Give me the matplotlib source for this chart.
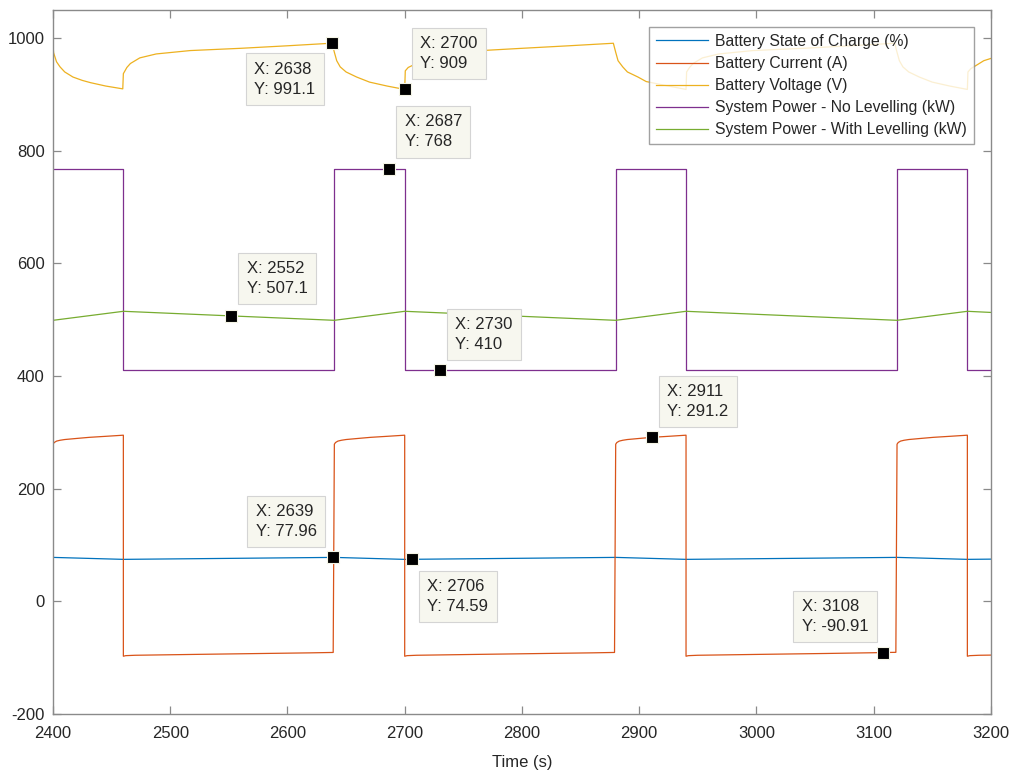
import matplotlib
matplotlib.use("Agg")
import matplotlib.pyplot as plt

plt.rcParams['font.family'] = ['Liberation Sans', 'DejaVu Sans']
plt.rcParams['axes.unicode_minus'] = False

# MATLAB default line colours
C_SOC = '#0072BD'
C_CUR = '#D95319'
C_VOLT = '#EDB120'
C_PNL = '#7E2F8E'
C_PWL = '#77AC30'

# -----------------------------
# Series values (time in s)
# -----------------------------
soc_t = [2400, 2460, 2640, 2700, 2880, 2940, 3120, 3180, 3200]
soc_v = [78.0, 74.5, 78.0, 74.47, 78.0, 74.5, 78.0, 74.5, 74.9]

cur_t = [2400, 2401, 2403, 2406, 2410, 2420, 2431, 2445, 2460,
         2460, 2462, 2470, 2520, 2580, 2620, 2639,
         2640, 2641, 2643, 2646, 2650, 2660, 2671, 2685, 2700,
         2700, 2702, 2710, 2760, 2820, 2860, 2879,
         2880, 2881, 2883, 2886, 2890, 2900, 2911, 2925, 2940,
         2940, 2942, 2950, 3000, 3060, 3100, 3108, 3119,
         3120, 3121, 3123, 3126, 3130, 3140, 3151, 3165, 3180,
         3180, 3182, 3190, 3200]
cur_v = [279, 282, 284.5, 286, 287.3, 289.2, 291.2, 293, 295,
         -97.5, -96.5, -95.8, -94.3, -92.6, -91.5, -90.8,
         279, 282, 284.5, 286, 287.3, 289.2, 291.2, 293, 295,
         -97.5, -96.5, -95.8, -94.3, -92.6, -91.5, -90.8,
         279, 282, 284.5, 286, 287.3, 289.2, 291.2, 293, 295,
         -97.5, -96.5, -95.8, -94.3, -92.6, -91.3, -90.91, -90.6,
         279, 282, 284.5, 286, 287.3, 289.2, 291.2, 293, 295,
         -97.5, -96.5, -95.8, -95.5]

volt_t = [2400, 2400.5, 2403, 2406, 2410, 2417, 2425, 2432, 2445, 2459.5,
          2460, 2463, 2466, 2474, 2488, 2517, 2560, 2600, 2638,
          2640, 2642, 2645, 2650, 2659, 2670, 2685, 2700,
          2700.5, 2703, 2707, 2714, 2728, 2757, 2800, 2840, 2878,
          2880, 2882, 2886, 2890, 2899, 2906, 2925, 2940,
          2940.5, 2943, 2946, 2954, 2968, 2997, 3040, 3080, 3118,
          3120, 3122, 3125, 3130, 3139, 3150, 3165, 3180,
          3180.5, 3183, 3187, 3194, 3200]
volt_v = [986, 974, 958, 949, 940, 931, 925, 921, 915, 910,
          937, 948, 955, 965, 972, 978, 982, 986.5, 991.1,
          975, 960, 949, 940, 931, 922, 915, 909,
          942, 948, 952, 963, 971, 977, 982, 986.5, 991,
          975, 960, 949, 940, 931, 923, 915, 909,
          940, 948, 955, 965, 972, 978, 982, 986.5, 991,
          975, 960, 949, 940, 931, 922, 915, 909,
          940, 946, 951, 960, 964]

power_t = [2400, 2460, 2640, 2700, 2880, 2940, 3120, 3180, 3200]
power_nl = [768, 410, 768, 410, 768, 410, 768, 410, 410]
power_wl = [499, 515, 499, 515, 499, 515, 499, 515, 513]

# data tips shown on the plot
tip_x = [2638, 2700, 2687, 2552, 2730, 2911, 2639, 2706, 3108]
tip_y = [991.1, 909, 768, 507.1, 410, 291.2, 77.96, 74.59, -90.91]
tip_txt_y = ['991.1', '909', '768', '507.1', '410', '291.2', '77.96', '74.59', '-90.91']

labels = ['Battery State of Charge (%)', 'Battery Current (A)', 'Battery Voltage (V)',
          'System Power - No Levelling (kW)', 'System Power - With Levelling (kW)']

fig = plt.figure(figsize=(10.1, 7.71), dpi=100)
ax = fig.add_axes([0.0525, 0.074, 0.9285, 0.913])

lw = 0.9
ax.plot(soc_t, soc_v, color=C_SOC, lw=lw, label=labels[0])
ax.plot(cur_t, cur_v, color=C_CUR, lw=lw, label=labels[1])
ax.plot(volt_t, volt_v, color=C_VOLT, lw=lw, label=labels[2])
ax.step(power_t, power_nl, where='post', color=C_PNL, lw=lw, label=labels[3])
ax.plot(power_t, power_wl, color=C_PWL, lw=lw, label=labels[4])

ax.set_xlim(2400, 3200)
ax.set_ylim(-200, 1050)
ax.set_xticks(range(2400, 3201, 100))
ax.set_yticks(range(-200, 1001, 200))
ax.set_xlabel('Time (s)', fontsize=12, color='#262626', labelpad=10)

for s in ax.spines.values():
    s.set_color('#8a8a8a')
    s.set_linewidth(1.0)
ax.tick_params(direction='in', length=6, width=0.9, color='#8a8a8a',
               top=True, right=True, labelsize=12, labelcolor='#262626')
ax.tick_params(axis='x', pad=9)
ax.tick_params(axis='y', pad=6)

# data tip offsets (pixels) from each point to its box centre
offsets = [(-47, -36), (44, 36), (44, 37), (46, 37), (44, 36),
           (46, 36), (-47, 36), (46, -37), (-48, 36)]
for x, y, ty, (dx, dy) in zip(tip_x, tip_y, tip_txt_y, offsets):
    ax.plot(x, y, 's', ms=8.5, color='black', mec='#f5f5e6', mew=0.8, zorder=6)
    ax.annotate(f'X: {x}\nY: {ty}', xy=(x, y), xytext=(dx, dy),
                textcoords='offset pixels', ha='center', va='center',
                multialignment='left', fontsize=12, color='#262626',
                linespacing=1.4, zorder=7,
                bbox=dict(boxstyle='square,pad=0.5', fc='#f7f7ef', ec='#d4d4d4', lw=0.8))

leg = ax.legend(loc='upper right', bbox_to_anchor=(0.982, 0.976), fontsize=11.3,
                frameon=True, fancybox=False, handlelength=3.3, handletextpad=0.45,
                labelspacing=0.45, borderpad=0.45, borderaxespad=0)
leg.get_frame().set_edgecolor('#8a8a8a')
leg.get_frame().set_linewidth(1.0)
leg.set_zorder(10)
for t in leg.get_texts():
    t.set_color('#262626')

fig.savefig('out.png', dpi=100)
